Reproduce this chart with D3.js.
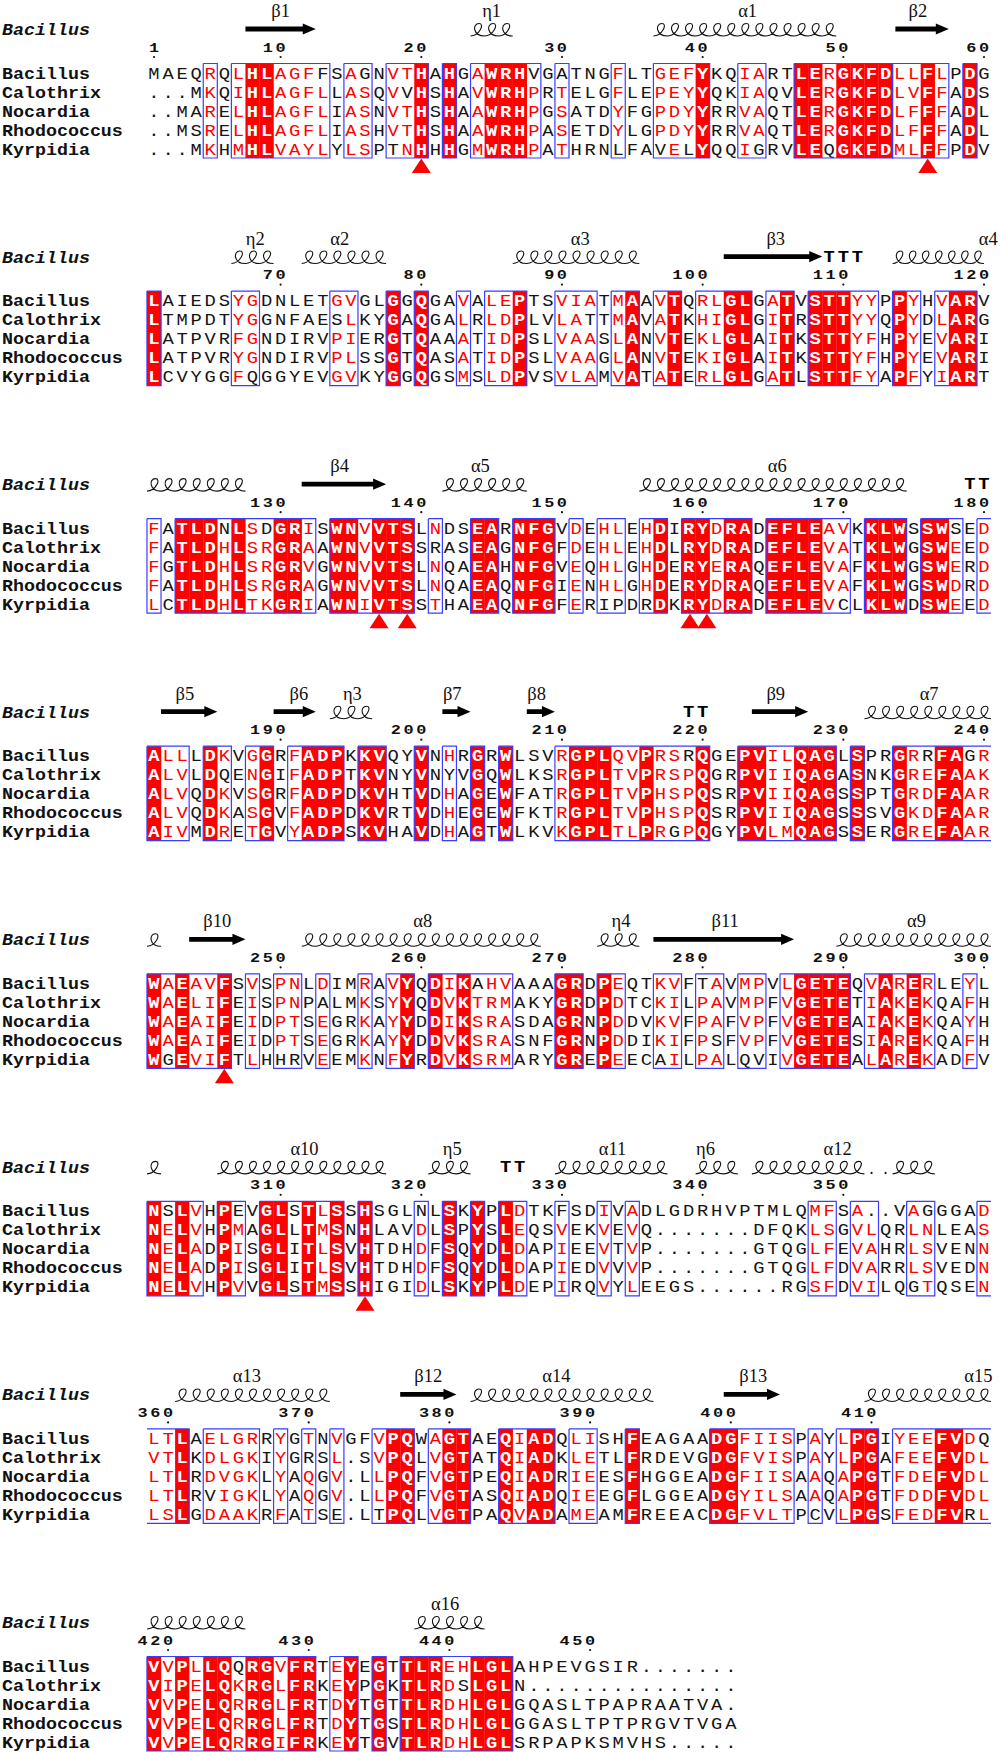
<!DOCTYPE html>
<html>
<head>
<meta charset="utf-8">
<script src="https://cdnjs.cloudflare.com/ajax/libs/d3/7.8.5/d3.min.js"></script>
<style>
html,body{margin:0;padding:0;background:#fff}
svg{display:block}
</style>
</head>
<body>
<div id="chart"></div>
<script>
// Lower-case residue = inside a similarity box but not highlighted (drawn black).
const speciesNames = ["Bacillus","Calothrix","Nocardia","Rhodococcus","Kyrpidia"];
const alignmentBlocks = [
 ["MAEQRQLHLAGFfSAgNVTHAHGAWRHvGaTNGFLTGEFYKQIARTLERGKFDLLFLPDG",
  "...MKQIHLAGFLLASQVvHSHAVWRHPRTELGFLEPEYYQKIAQVLERGKFDLVFFADS",
  "..MARELHLAGFLIASNVTHSHAAWRHPGSATDYFGPDYYRRVAQTLERGKFDLFFFADL",
  "..MSRELHLAGFLIASHVTHSHAAWRHPASETDYLGPDYYRRVAQTLERGKFDLFFFADL",
  "...MKHMHLVAYLYLSPtNHHHGMWRHPATHRNlFAvElYQQIgRVLEqGKFDMLFFPDV"],
 ["LAIEDSYGDNLETGVGLGGQGAVALEPTSVIATMAAVTQRLGLGATVSTTYYPPYHVARV",
  "LTMPDTYGGNFAEsLKYGAQGALRLDPLVLAtTMAVATKHIGLGITRSTTYYQPYDLARG",
  "LATPVRFGNDIRVPIERGTQAAATIDPSLVAASLANVTEKLGLAITKSTTYFHPYEVARI",
  "LATPVRYGNDIRVPLSSGTQASATIDPSLVAAGLANVTEKIGLAITKSTTYFHPYEVARI",
  "LCVYGGFqGGYEVGVKYGGQGSMSLDPVSVLAMVATATERLGLGATLSTTFYAPFYIART"],
 ["FATLDnLSdGRISWNVVTSLNDSEARNFGVDEHLEHDIRYDRADEFLEAVKKLWSSWsED",
  "FATLDHLSRGRAAWNVVTSSrASEAGNFGFDEHLEHDLRYDRADEFLEVATKLWGSWEED",
  "FGTLDHLSRGRVGWNVVTSLNQAEAHNFGVEQHLGHDERYERAQEFLEVAFKLWGSWERD",
  "FATLDHLSRGRAGWNVVTSLNQAEAQNFGIENHLGHDERYDRAQEFLEVAFKLWGSWDRD",
  "LCTLDHLTKGRIAWNIVTSSTHAEAQNFGFERipDrDKRYDRADEFLEVcLKLWDSWEED"],
 ["ALLLDKVGGRFADPKKVQYVNHRGRWLSVRGPLQVPRSrQGEPVILQAGLSPRGRrFAgR",
  "ALVLDqENGIFADPTKVNYVNyVGQWLKSRGPLTVPRSPQGRPVIIQAGASNKGREFAAK",
  "ALVQDKVSGRFADPDKVHTVDHAGEWFATRGPLTVPHSPQSRPVIIQAGSSPTGRDFAAR",
  "ALVQDKASGVFADPDKVRTVDHEGEWFKTRGPLTVPHSPQSRPVIIQAGSSSVGKDFAAR",
  "AIVMDRETGVYADPSKVHAVDHAGTWLKVKGPLTLPRgPQGYPVLMQAGSSERGREFAAR"],
 ["WAEAVFSVSPNLDIMRAVYQDIKaHVAAAGRDPEQTKVFtAVMPVLGETEQVARERLEYL",
  "WAELIFEISPNPaLMKSYYQDVKTRMAKYGRDPDTCKILPAVMPFVGETETIAKEKQAFH",
  "WAEAIFEIDPTSEGRKAYYDDIKSRASDAGRNPDDVKVFPAFVPFVGETEAIAKEKQAYH",
  "WAEAIFEIDPTSEGRKAYYDDVKSRASNFGRNPDDIKIFPsFVPFVGETESIAREKQAFH",
  "WgEVIFTLHhrVEEMKNFYRDVKSRMARYGREPEECaILPALqvIVGETEALAREKADFV"],
 ["NsLVHPeVGLsTLSSHSGLnLSKYPLDTKfSDIVADLGDRHVPTMLQMFSA..VAgGGAD",
  "NELVHPMAGLlTMSNHLAVDLSPYSLEQSVEKVEVQ.......DFQKLSGVLQRLNLEAS",
  "NELADPISGLiTLSVHTDHDFSQYDLDAPIEEVTVP.......GTQGLFEVAHRLSVENN",
  "NELADPISGLiTLSVHTDHDFSQYDLDAPIEDVVVP.......GTQGLFDVARRLSVEDN",
  "NELVHPVVGLsTMSSHIGIDLSKYPLDEPIRQVYLEEGS......RGSFDVILQgTQSEN"],
 ["LTLAELGRRYGTNVGFVPQWAGTAEQIADQLISHFEAGAADGFIISPAYLPGIYEEFVDq",
  "VTLKDLGKIYGrSL.SVPQLVGTATQIADKLETLFRDEVGDGFVISPAYLPGAFEEFVDL",
  "LTLRDVGKLYAQGV.LLPQFVGTPEQIADRIEESFHGGEADGFIISAAQAPGTFDEFVDL",
  "LTLRvIGKLYAQGV.LLPQFVGTASQIADQIEEGFLGGEADGYILSAAQAPGTFDDFVDL",
  "LSLGDAAKRFATSe.LtPQLVGTPAQVADAMEAMFREEACDGFVLTPcVLPGSFEDFVrL"],
 ["VVPLLQqRGVFRTEYEGTTLREHLGLAHPEVGSIR.......",
  "VIPELQKRGLFRKEYPGKTLRDsLGLN...............",
  "VVPELQRRGLFRTDYTGTTLRDHLGLGQASLTPAPRAATVA.",
  "VVPELQRRGLFRTDYTGSTLRDHLGLGGASLTPTPRGVTVGA",
  "VVPELQRRGIFRKEYTGVTLRDHLGLSRPAPKSMVHS....."]
];
const solidColumns = [
 [8,9,20,22,25,26,27,40,47,48,50,51,52,53,56,59],
 [1,18,20,27,35,38,42,43,46,48,49,50,54,58,59],
 [3,4,5,7,10,11,14,15,17,18,19,24,25,27,28,29,37,39,40,42,43,45,46,47,48,52,53,54,56,57],
 [1,5,9,12,13,14,16,17,20,24,26,31,32,33,36,40,43,44,47,48,49,51,54,57,58],
 [1,3,6,19,21,23,30,31,33,47,48,49,50,53,55],
 [1,3,6,9,10,12,14,16,22,24,26],
 [3,18,19,22,23,26,28,29,35,41,42,51,52,57,58],
 [1,3,5,6,8,9,11,12,15,17,19,20,21,24,25,26]
];
const boxRanges = [
 [[5,5],[7,13],[15,16],[18,20],[22,22],[24,28],[30,30],[34,34],[37,40],[43,44],[47,53],[54,57],[59,59]],
 [[1,1],[7,8],[14,15],[18,18],[20,20],[23,23],[25,27],[30,32],[34,35],[37,38],[40,43],[45,46],[48,52],[54,55],[57,59]],
 [[1,1],[3,12],[14,19],[21,21],[24,25],[27,29],[31,31],[33,34],[36,37],[39,43],[45,50],[52,54],[56,58],[60,60]],
 [[1,3],[5,6],[8,9],[11,14],[16,17],[20,20],[22,22],[24,24],[26,26],[30,40],[43,49],[51,51],[54,60]],
 [[1,6],[8,8],[10,11],[13,13],[16,16],[18,19],[21,26],[30,31],[33,34],[37,38],[40,41],[43,44],[46,50],[52,56],[59,59]],
 [[1,4],[6,7],[9,14],[16,16],[20,20],[22,22],[24,24],[26,27],[30,30],[33,33],[35,35],[48,49],[51,52],[55,56],[60,60]],
 [[1,3],[5,8],[10,10],[12,12],[14,14],[17,19],[21,23],[26,29],[31,32],[35,35],[41,46],[48,48],[50,52],[54,60]],
 [[1,12],[14,15],[17,17],[19,26]]
];
const openRightBlocks = [2,3,5,6];
const openLeftBlocks = [6];
const tickLabels = [
 [[1,1],[10,10],[20,20],[30,30],[40,40],[50,50],[60,60]],
 [[70,10],[80,20],[90,30],[100,40],[110,50],[120,60]],
 [[130,10],[140,20],[150,30],[160,40],[170,50],[180,60]],
 [[190,10],[200,20],[210,30],[220,40],[230,50],[240,60]],
 [[250,10],[260,20],[270,30],[280,40],[290,50],[300,60]],
 [[310,10],[320,20],[330,30],[340,40],[350,50]],
 [[360,2],[370,12],[380,22],[390,32],[400,42],[410,52]],
 [[420,2],[430,12],[440,22],[450,32]]
];
// [block, first column, last column]
const strands = [
 [0,7.5,12.5],[0,53.7,57.5],[1,41.5,48.5],[2,11.5,17.5],[3,1.5,5.5],[3,9.5,12.5],[3,21.5,23.5],
 [3,27.5,29.5],[3,43.5,47.5],[4,3.5,7.5],[4,36.5,46.5],[6,18.5,22.5],[6,41.5,45.5]
];
const helices = [
 [0,23.5,26.5],[0,36.5,49.5],[1,6.5,9.5],[1,11.5,17.5],[1,26.5,35.5],[1,53.5,60],
 [2,0.5,7.5],[2,21.5,27.5],[2,35.5,54.5],[3,13.5,16.5],[3,51.5,60.5],
 [4,0.5,1.5],[4,11.5,28.5],[4,32.5,35.5],[4,49.5,60.5],
 [5,0.5,1.5],[5,5.5,17.5],[5,20.5,23.5],[5,29.5,37.5],[5,39.5,42.5],[5,43.5,51.5],[5,53.5,56.5],
 [6,2.5,13.5],[6,23.5,36.5],[6,51.5,60.5],[7,0.5,7.5],[7,19.5,24.5]
];
// [block, column, text]
const structureLabels = [
 [0,10,"β1"],[0,25,"η1"],[0,43.2,"α1"],[0,55.3,"β2"],
 [1,8.2,"η2"],[1,14.2,"α2"],[1,31.3,"α3"],[1,45.2,"β3"],[1,60.3,"α4"],
 [2,14.2,"β4"],[2,24.2,"α5"],[2,45.3,"α6"],
 [3,3.2,"β5"],[3,11.3,"β6"],[3,15.1,"η3"],[3,22.2,"β7"],[3,28.2,"β8"],[3,45.2,"β9"],[3,56.1,"α7"],
 [4,5.5,"β10"],[4,20.1,"α8"],[4,34.2,"η4"],[4,41.6,"β11"],[4,55.2,"α9"],
 [5,11.7,"α10"],[5,22.2,"η5"],[5,33.6,"α11"],[5,40.2,"η6"],[5,49.6,"α12"],
 [6,7.6,"α13"],[6,20.5,"β12"],[6,29.6,"α14"],[6,43.6,"β13"],[6,59.6,"α15"],
 [7,21.7,"α16"]
];
// [block, column]
const turnMarks = [[1,49],[1,50],[1,51],[2,59],[2,60],[3,39],[3,40],[5,26],[5,27]];
const gapDots = [[5,52],[5,53]];
const activeSites = [[0,20],[0,56],[2,17],[2,19],[2,39.1],[2,40.3],[4,6],[5,16]];

const colX = d3.scaleLinear().domain([1,60]).range([154,984]);
const blockY = d3.scaleLinear().domain([0,7]).range([73,1666]);
const rowY = d3.scaleLinear().domain([0,4]).range([0,76]);
const pitch = colX(2)-colX(1);
const BLUE="#3a3cff", RED="#ff0000", INK="#151515";
const MONO="'Liberation Mono',monospace", SERIF="'Liberation Serif',serif";

const svg = d3.select("#chart").append("svg").attr("width",1000).attr("height",1752);
svg.append("rect").attr("width",1000).attr("height",1752).attr("fill","#fff");

alignmentBlocks.forEach((rows,bi)=>{
  const y0 = blockY(bi);
  const g = svg.append("g");
  const top = y0-9.5, bottom = y0+rowY(4)+9;
  const solid = new Set(solidColumns[bi]);
  const boxed = new Set();
  boxRanges[bi].forEach(([a,b])=>{for(let c=a;c<=b;c++)boxed.add(c);});

  g.selectAll("rect.solid").data(solidColumns[bi]).join("rect").attr("class","solid")
    .attr("x",c=>colX(c)-pitch/2).attr("width",pitch+0.2)
    .attr("y",top).attr("height",bottom-top).attr("fill",RED);

  const cells=[];
  rows.forEach((s,ri)=>{for(let i=0;i<s.length;i++)cells.push({ch:s[i],ri,c:i+1});});
  g.selectAll("text.res").data(cells).join("text").attr("class","res")
    .attr("transform",d=>`translate(${colX(d.c)},${y0+rowY(d.ri)+5.5}) scale(1.14,1)`)
    .attr("text-anchor","middle")
    .attr("font-family",MONO).attr("font-size",16.5)
    .attr("font-weight",d=>solid.has(d.c)?"bold":"normal")
    .attr("fill",d=>{
      if(solid.has(d.c))return "#fff";
      if(boxed.has(d.c)&&d.ch!=="."&&d.ch===d.ch.toUpperCase())return RED;
      return INK;})
    .text(d=>d.ch.toUpperCase());

  g.selectAll("path.box").data(boxRanges[bi]).join("path").attr("class","box")
    .attr("fill","none").attr("stroke",BLUE).attr("stroke-width",1.2)
    .attr("d",([a,b])=>{
      const l=colX(a)-pitch/2, r=colX(b)+pitch/2;
      const p=d3.path();
      const openL=a===1&&openLeftBlocks.includes(bi), openR=b===60&&openRightBlocks.includes(bi);
      p.moveTo(l,top);p.lineTo(r,top);
      if(!openR)p.lineTo(r,bottom);else p.moveTo(r,bottom);
      p.lineTo(l,bottom);
      if(!openL)p.lineTo(l,top);
      return p.toString();
    });

  g.selectAll("text.name").data(speciesNames).join("text").attr("class","name")
    .attr("transform",(d,i)=>`translate(2,${y0+rowY(i)+5.5}) scale(1.11,1)`)
    .attr("font-family",MONO).attr("font-weight","bold").attr("font-size",16.5).attr("fill","#111")
    .text(d=>d);
  g.append("text").attr("transform",`translate(2,${y0-38}) scale(1.11,1)`)
    .attr("font-family",MONO).attr("font-weight","bold").attr("font-style","italic")
    .attr("font-size",16.5).attr("fill","#111").text(speciesNames[0]);

  tickLabels[bi].forEach(([label,c])=>{
    g.append("text").attr("transform",`translate(${colX(c)+7.6},${y0-21.5}) scale(1.3,1)`)
      .attr("text-anchor","end").attr("font-family",MONO).attr("font-weight","bold")
      .attr("font-size",13).attr("letter-spacing",1.97).attr("fill","#111").text(label);
    g.append("circle").attr("cx",colX(c)).attr("cy",y0-16).attr("r",1.1).attr("fill","#111");
  });
});

svg.selectAll("path.strand").data(strands).join("path").attr("class","strand")
  .attr("fill","#000")
  .attr("d",([b,s,e])=>{
    const y=blockY(b)-44, x0=colX(s), x1=colX(e), h=x1-13, p=d3.path();
    p.moveTo(x0,y-2.4);p.lineTo(h,y-2.4);p.lineTo(h,y-5.6);p.lineTo(x1,y);
    p.lineTo(h,y+5.6);p.lineTo(h,y+2.4);p.lineTo(x0,y+2.4);p.closePath();
    return p.toString();
  });

svg.selectAll("path.coil").data(helices).join("path").attr("class","coil")
  .attr("fill","none").attr("stroke","#111").attr("stroke-width",1.1)
  .attr("d",([b,s,e])=>{
    const base=blockY(b)-37, top=base-12.5;
    const n=Math.max(1,Math.round(e-s));
    const step=(colX(e)-colX(s))/n;
    const p=d3.path();
    const x=colX(s);
    p.moveTo(x,base);
    for(let i=0;i<n;i++){
      const xi=x+i*step;
      p.bezierCurveTo(xi+0.6*step,base,xi+1.05*step,top,xi+0.6*step,top);
      p.bezierCurveTo(xi+0.12*step,top,xi+0.15*step,base,xi+step,base);
    }
    return p.toString();
  });

svg.selectAll("text.sse").data(structureLabels).join("text").attr("class","sse")
  .attr("x",d=>colX(d[1])).attr("y",d=>blockY(d[0])-56)
  .attr("text-anchor","middle").attr("font-family",SERIF).attr("font-size",18.5).attr("fill","#111")
  .text(d=>d[2]);

svg.selectAll("text.turn").data(turnMarks).join("text").attr("class","turn")
  .attr("transform",d=>`translate(${colX(d[1])},${blockY(d[0])-39}) scale(1.14,1)`)
  .attr("text-anchor","middle").attr("font-family",MONO).attr("font-weight","bold")
  .attr("font-size",16.5).attr("fill","#000").text("T");

svg.selectAll("text.gap").data(gapDots).join("text").attr("class","gap")
  .attr("x",d=>colX(d[1])).attr("y",d=>blockY(d[0])-37)
  .attr("text-anchor","middle").attr("font-family",MONO).attr("font-size",15).attr("fill","#111").text(".");

svg.selectAll("path.site").data(activeSites).join("path").attr("class","site")
  .attr("fill",RED)
  .attr("d",([b,c])=>{
    const y=blockY(b)+85.5, x=colX(c), p=d3.path();
    p.moveTo(x,y);p.lineTo(x+9.5,y+14.5);p.lineTo(x-9.5,y+14.5);p.closePath();
    return p.toString();
  });
</script>
</body>
</html>
